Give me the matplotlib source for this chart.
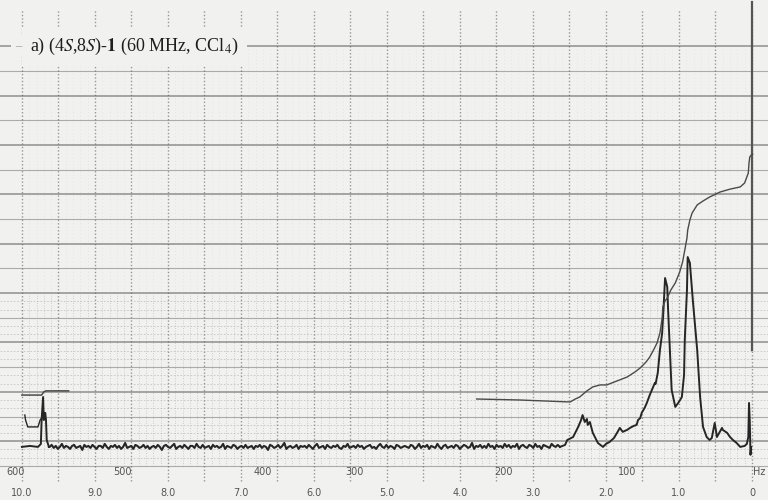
import matplotlib.pyplot as plt
import numpy as np

plt.rcParams['font.family'] = ['Liberation Serif', 'DejaVu Serif']
plt.rcParams['mathtext.fontset'] = 'stix'

# --- espectro 1H (60 MHz, CCl4), leido de la carta del registrador ---
# desplazamiento [ppm] e intensidad [divisiones de la carta]
baseline_level = 0.77
div_px = 24.7  # el ruido esta anotado en pixeles de la carta

# zona del aldehido (~9.7 ppm)
ald_ppm = [10.00, 9.89, 9.78, 9.74, 9.73, 9.71, 9.70, 9.68, 9.67, 9.66, 9.63]
ald_int = [0.77, 0.81, 0.77, 0.89, 1.86, 2.79, 1.86, 2.15, 1.86, 1.05, 0.77]

# barrido con offset del aldehido
off_ppm = [9.96, 9.95, 9.92, 9.78, 9.75, 9.73]
off_int = [2.06, 1.86, 1.58, 1.58, 1.86, 1.94]

# linea base entre 9.6 y 2.66 ppm (ruido)
noise = [0, 2, -1, 1, -2, 0, 3, -1, 1, 0, -2, 1, 2, -1, 0, 1, -3, 2, 0, 1, -1, 2, 0, -2, 1,
         1, -1, 3, 0, -2, 1, 0, 2, -1, 1, -2, 0, 4, -1, 0, 1, -2, 2, 1, -1, 0, 2, -1, 1, -2,
         0, 1, -1, 2, 0, -3, 1, 2, 0, -1, 1, 3, -2, 0, 1, -1, 2, 0, -2, 1, 1, -1, 3, 0, -1,
         2, -1, 0, 1, -2, 2, 0, 1, -1, 0, 3, -2, 1, 0, -1, 2, 1, -2, 0, 1, -1, 2, -1, 0, 1,
         -2, 1, 0, 2, -1, 1, 0, -3, 2, 1, -1, 0, 2, -1, 1, 4, -2, 0, 1, -1, 0, 2, -2, 1, 0,
         1, -1, 2, 0, -2, 1, 3, -1, 0, 1, -2, 2, 0, -1, 1, 0, 2, -1, -2, 1, 0, 3, -1, 0, 1,
         -1, 2, 0, 1, -2, 0, 1, 2, -1, 0, -2, 1, 3, 0, -1, 2, -1, 1, 0, -2, 2, 1, -1, 0, 1,
         0, -1, 2, 1, -2, 0, 3, -1, 1, 0, 2, -2, 1, 0, -1, 3, 0, -2, 1, 2, -1, 0, 1, -1, 2,
         1, -2, 0, 2, 1, -1, 0, 4, -2, 1, 0, 2, -1, 1, -1, 3, 0, 1, -2, 2, 0, 1, -1, 3, 0,
         2, -1, 1, 0, 3, -2, 1, 2, 0, -1, 2, 1, -1, 3, 0, 1, -2, 2, 1, 0, -1, 3, 1, 0, 2]

# zona alifatica + TMS
ali_ppm = [2.63, 2.56, 2.53, 2.45, 2.38, 2.34, 2.32, 2.29, 2.26, 2.25, 2.22,
           2.18, 2.11, 2.04, 2.00, 1.95, 1.89, 1.84, 1.81, 1.77, 1.71, 1.67,
           1.62, 1.58, 1.56, 1.53, 1.51, 1.47, 1.44, 1.40, 1.37, 1.33, 1.32,
           1.29, 1.26, 1.23, 1.21, 1.19, 1.16, 1.15, 1.12, 1.10, 1.05, 1.01,
           0.96, 0.93, 0.92, 0.89, 0.88, 0.85, 0.81, 0.75, 0.71, 0.67, 0.62,
           0.58, 0.55, 0.51, 0.49, 0.48, 0.44, 0.41, 0.40, 0.34, 0.30, 0.26,
           0.21, 0.16, 0.10, 0.07, 0.05, 0.04, 0.03, 0.02, 0.01]
ali_int = [0.77, 0.85, 1.05, 1.17, 1.58, 1.86, 2.06, 1.78, 1.90, 1.66, 1.78,
           1.34, 0.93, 0.77, 0.89, 0.97, 1.13, 1.38, 1.54, 1.38, 1.46, 1.54,
           1.62, 1.66, 1.86, 1.94, 2.15, 2.35, 2.55, 2.87, 3.08, 3.36, 3.32,
           3.77, 4.70, 5.38, 6.44, 7.61, 7.25, 6.44, 4.41, 3.08, 2.39, 2.55,
           2.79, 3.68, 5.10, 7.13, 8.46, 8.22, 6.72, 4.70, 2.79, 1.58, 1.17,
           1.05, 1.13, 1.74, 1.38, 1.17, 1.38, 1.54, 1.46, 1.34, 1.17, 1.05,
           0.93, 0.77, 0.81, 0.89, 1.17, 2.55, 1.86, 0.45, 0.77]

# integrales
int_ald_ppm = [10.00, 9.73, 9.70, 9.67, 9.36]
int_ald_val = [2.87, 2.87, 3.00, 3.04, 3.04]

int_ppm = [3.77, 3.18, 2.49, 2.42, 2.36, 2.26, 2.18, 2.08, 1.99, 1.85, 1.71,
           1.60, 1.53, 1.45, 1.40, 1.34, 1.30, 1.26, 1.23, 1.22, 1.19, 1.16,
           1.11, 1.05, 0.99, 0.95, 0.92, 0.89, 0.88, 0.85, 0.82, 0.75, 0.67,
           0.58, 0.44, 0.30, 0.16, 0.10, 0.05, 0.04, 0.03, 0.01, -0.01]
int_val = [2.71, 2.67, 2.59, 2.71, 2.79, 3.04, 3.20, 3.28, 3.28, 3.44, 3.60,
           3.81, 3.97, 4.21, 4.41, 4.74, 4.98, 5.38, 5.99, 6.44, 6.68, 6.80,
           7.13, 7.41, 7.85, 8.26, 8.74, 9.23, 9.55, 9.96, 10.24, 10.57, 10.73,
           10.89, 11.09, 11.21, 11.30, 11.46, 11.86, 12.27, 12.51, 12.59, 12.63]

# escalas impresas en la carta
ppm_ticks = [10.0, 9.0, 8.0, 7.0, 6.0, 5.0, 4.0, 3.0, 2.0, 1.0, 0.0]
ppm_labels = ['10.0', '9.0', '8.0', '7.0', '6.0', '5.0', '4.0', '3.0', '2.0', '1.0', '0']
hz_labels = ['600', '500', '400', '300', '200', '100', 'Hz']
hz_label_ppm = [10.08, 8.62, 6.70, 5.44, 3.40, 1.71, -0.10]

titulo = r'a) (4$\mathit{S}$,8$\mathit{S}$)-$\mathbf{1}$ (60 MHz, CCl$_4$)'

# %%
papel = '#f1f1f0'
fig = plt.figure(figsize=(7.68, 5.0), dpi=100, facecolor=papel)
ax = fig.add_axes([0, 0, 1, 1])
ax.set_facecolor(papel)
ax.set_xlim(10.30, -0.22)
ax.set_ylim(-1.38, 18.87)
ax.axis('off')

# grilla de la carta
for k in range(0, 18):
    ax.axhline(k, color='#7d7d7d', lw=1.1 if k % 2 == 1 else 0.8,
               alpha=0.85 if k % 2 == 1 else 0.6, zorder=1)
for k in range(0, 7):
    for f in (1 / 3, 2 / 3):
        ax.axhline(k + f, color='#9a9a9a', lw=0.6, ls=(0, (2, 2)), alpha=0.5, zorder=1)
for p in np.arange(0.0, 10.01, 0.5):
    ax.plot([p, p], [-0.6, 18.5], color='#666666', lw=1.0, ls=(0, (1, 1.5)),
            alpha=0.65, zorder=1)
for p in np.arange(0.1, 10.0, 0.1):
    if abs(p * 2 - round(p * 2)) > 1e-6:
        ax.plot([p, p], [0, 7], color='#999999', lw=0.6, ls=(0, (1, 2)),
                alpha=0.55, zorder=1)
        ax.plot([p, p], [7, 17], color='#aaaaaa', lw=0.5, ls=(0, (1, 4)),
                alpha=0.35, zorder=1)

# linea de referencia en 0 ppm
ax.plot([0.0, 0.0], [4.7, 18.8], color='#555555', lw=1.6, zorder=2)

# espectro
base_ppm = np.linspace(9.62, 2.66, len(noise))
base_int = baseline_level + np.array(noise) / div_px
traza = '#262626'
ax.plot(ald_ppm, ald_int, color=traza, lw=1.4, zorder=3)
ax.plot(off_ppm, off_int, color=traza, lw=1.0, zorder=3)
ax.plot(np.r_[ald_ppm[-1], base_ppm, ali_ppm[0]],
        np.r_[ald_int[-1], base_int, ali_int[0]], color=traza, lw=1.5, zorder=3)
ax.plot(ali_ppm, ali_int, color=traza, lw=1.4, zorder=3)

# curvas de integracion
ax.plot(int_ald_ppm, int_ald_val, color='#4a4a4a', lw=1.1, zorder=3)
ax.plot(int_ppm, int_val, color='#4a4a4a', lw=1.0, zorder=3)

# titulo y escalas
ax.text(9.89, 17.0, titulo, fontsize=13, va='center', ha='left', color='#1e1e1e',
        bbox=dict(facecolor=papel, edgecolor='none', pad=6), zorder=4)
ax.text(10.05, 17.0, '–', fontsize=9, va='center', ha='center', color='#999999',
        bbox=dict(facecolor=papel, edgecolor='none', pad=3), zorder=4)
for p, lab in zip(ppm_ticks, ppm_labels):
    ax.text(min(p, 10.15), -1.09, lab, fontsize=7, ha='center', va='center',
            color='#555555', family='DejaVu Sans', zorder=4)
for p, lab in zip(hz_label_ppm, hz_labels):
    ax.text(p, -0.24, lab, fontsize=7, ha='center', va='center',
            color='#555555', family='DejaVu Sans', zorder=4)

fig.savefig('out.png', dpi=100, facecolor=fig.get_facecolor())
